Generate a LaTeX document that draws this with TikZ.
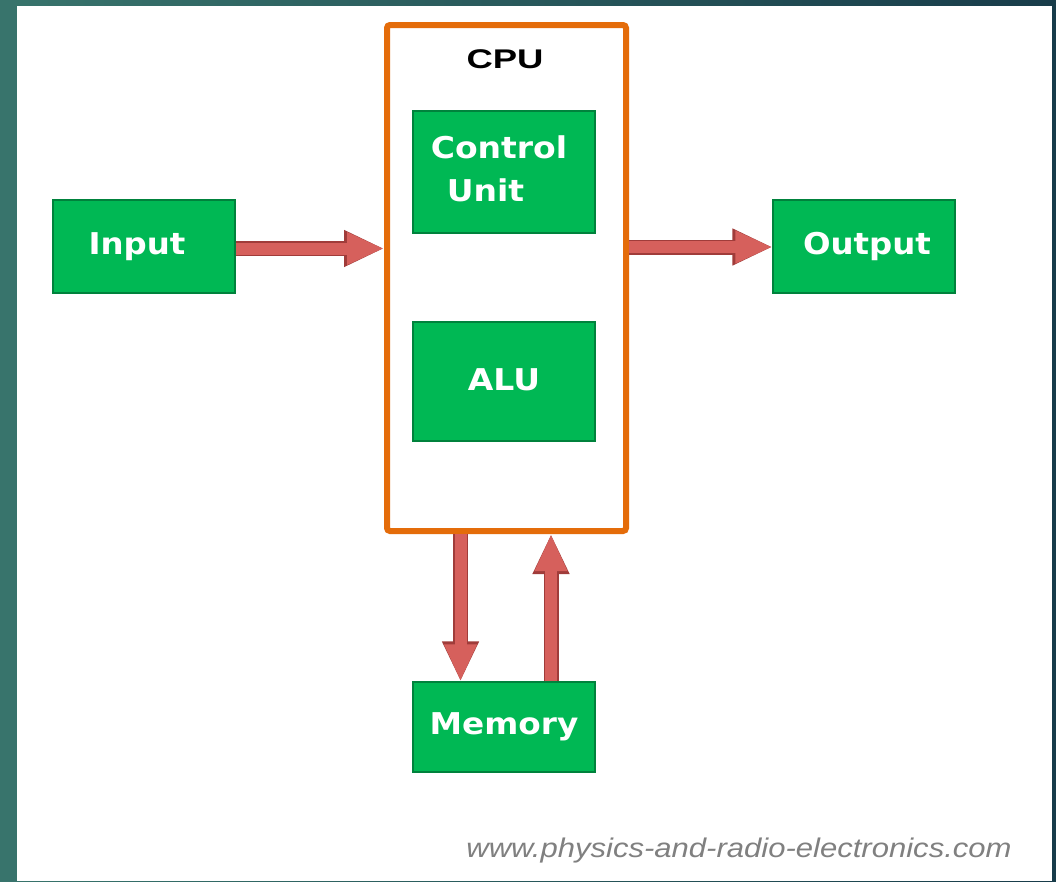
\documentclass[tikz,border=0pt]{standalone}
\usepackage{fontspec}
\setmainfont{DejaVu Sans}
\newfontfamily\boxfont{DejaVu Sans}
\newfontfamily\webfont{Liberation Sans}
\usetikzlibrary{arrows.meta,calc}
\definecolor{bgleft}{RGB}{56,116,108}
\definecolor{bgright}{RGB}{24,60,74}
\definecolor{boxgreen}{RGB}{0,184,84}
\definecolor{boxedge}{RGB}{0,130,60}
\definecolor{cpuorange}{RGB}{228,108,10}
\definecolor{arrowred}{RGB}{214,96,92}
\definecolor{arrowdark}{RGB}{160,60,58}
\definecolor{webgray}{RGB}{128,128,128}
\tikzset{
  unitbox/.style={draw=boxedge, line width=1.2pt, fill=boxgreen, text=white,
    minimum width=182pt, minimum height=#1, inner sep=0pt,
    font=\boxfont\bfseries\fontsize{30}{40}\selectfont},
  cpubox/.style={draw=cpuorange, line width=6pt, rounded corners=3pt,
    minimum width=239pt, minimum height=506pt, inner sep=0pt},
  fat/.style={draw=arrowred, line width=12pt,
    -{Triangle[width=30pt,length=37pt]},
    preaction={draw=arrowdark, line width=15pt, -{Triangle[width=34pt,length=40pt]}}},
}
\begin{document}
\begin{tikzpicture}[x=1pt,y=-1pt]
\useasboundingbox (0,0) rectangle (1056,881);
\shade[left color=bgleft, right color=bgright] (0,0) rectangle (1056,881);
\fill[white] (17,6) rectangle (1052,881);

\node[cpubox] (cpu) at (506.5,278) {};
\node[font=\webfont\bfseries\fontsize{27}{30}\selectfont, text=black] (cpulabel) at (505,59) {\scalebox{1.35}[1]{CPU}};

\node[unitbox=93pt] (inp) at (144,246.5) {\raisebox{3pt}{\hspace*{-14pt}\scalebox{1.08}[1]{Input}}};
\node[unitbox=93pt] (out) at (864,246.5) {\raisebox{3pt}{\hspace*{6pt}\scalebox{1.08}[1]{Output}}};
\node[unitbox=122pt] (cu) at (504,172) {\raisebox{12pt}{\begin{tabular}{@{}l@{}}\scalebox{1.1}[1]{Control}\\[3pt]\hspace{16pt}\scalebox{1.1}[1]{Unit}\end{tabular}}\hspace*{10pt}};
\node[unitbox=119pt] (alu) at (504,381.5) {\raisebox{3pt}{\scalebox{1.1}[1]{ALU}}};
\node[unitbox=90pt] (mem) at (504,727) {\raisebox{3pt}{\scalebox{1.09}[1]{Memory}}};

\node[anchor=base, text=webgray, font=\webfont\itshape\fontsize{27}{30}\selectfont] (web) at (739,857) {\scalebox{1.15}[1]{www.physics-and-radio-electronics.com}};

\coordinate (a1) at ($(inp.east)+(0,2)$);
\coordinate (b1) at (cpu.west |- a1);
\draw[fat] (a1) -- (b1);
\coordinate (a2) at ($(cpu.east)+(0,-31)$);
\coordinate (b2) at (out.west |- a2);
\draw[fat] (a2) -- (b2);
\coordinate (a3) at ($(cpu.south)+(-46,0)$);
\coordinate (b3) at (mem.north -| a3);
\draw[fat] (a3) -- (b3);
\coordinate (a4) at ($(mem.north)+(47,0)$);
\coordinate (b4) at (cpu.south -| a4);
\draw[fat] (a4) -- (b4);
\end{tikzpicture}
\end{document}
